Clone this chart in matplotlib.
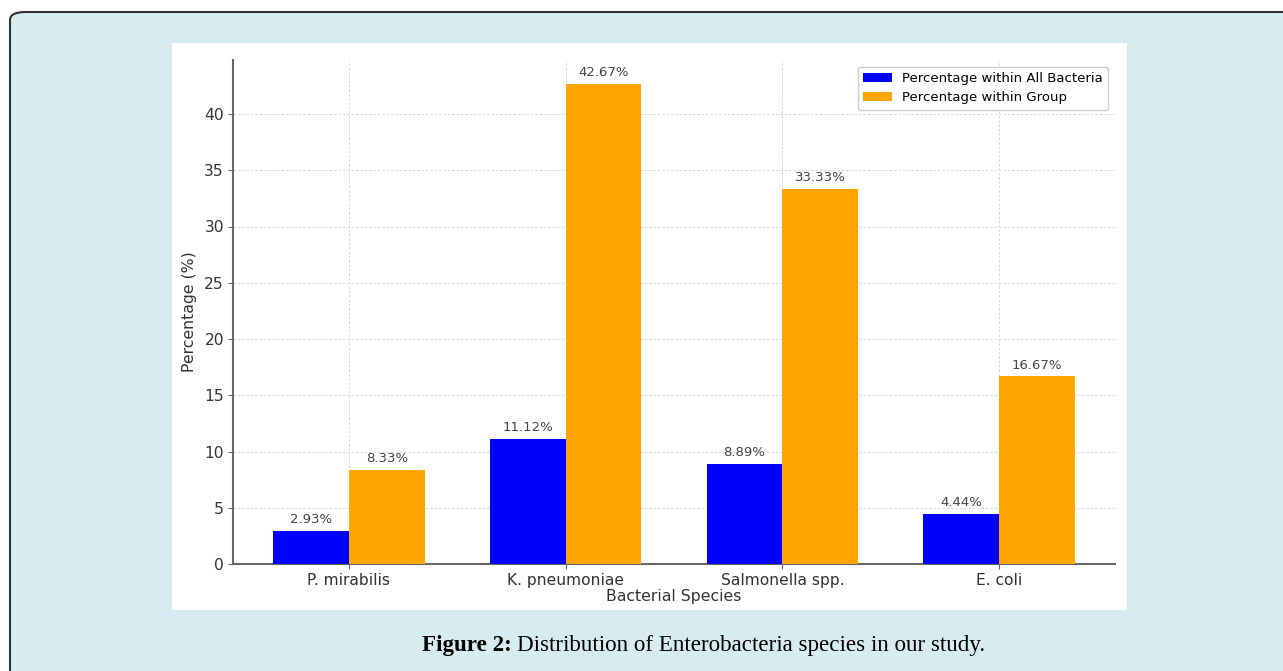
import matplotlib
matplotlib.use("Agg")
import matplotlib.pyplot as plt
from matplotlib.patches import FancyBboxPatch, Rectangle
import numpy as np

species = ["P. mirabilis", "K. pneumoniae", "Salmonella spp.", "E. coli"]
pct_all = [2.93, 11.12, 8.89, 4.44]
pct_group = [8.33, 42.67, 33.33, 16.67]
series_names = ["Percentage within All Bacteria", "Percentage within Group"]

W, H = 1283, 671
fig = plt.figure(figsize=(W / 100, H / 100), dpi=100)
fig.patch.set_facecolor("white")

# outer rounded panel
bg = FancyBboxPatch((10 / W, -20 / H), (W + 20) / W, (H - 12 + 20) / H,
                    boxstyle="round,pad=0,rounding_size=0.012",
                    transform=fig.transFigure, facecolor="#d7ecf1",
                    edgecolor="#333333", linewidth=1.5, zorder=0)
fig.patches.append(bg)
# white chart panel
fig.patches.append(Rectangle((172 / W, (H - 610) / H), (1127 - 172) / W, (610 - 43) / H,
                             transform=fig.transFigure, facecolor="white",
                             edgecolor="none", zorder=1))

ax = fig.add_axes([233 / W, (H - 564) / H, (1115 - 233) / W, (564 - 60) / H])
ax.set_facecolor("none")
ax.set_zorder(2)

x = np.arange(len(species))
w = 0.35
b1 = ax.bar(x - w / 2, pct_all, w, color="blue", label=series_names[0], zorder=3)
b2 = ax.bar(x + w / 2, pct_group, w, color="orange", label=series_names[1], zorder=3)

for bars, vals in ((b1, pct_all), (b2, pct_group)):
    for r, v in zip(bars, vals):
        ax.annotate(f"{v:.2f}%", (r.get_x() + r.get_width() / 2, r.get_height()),
                    xytext=(0, 3.5), textcoords="offset points", ha="center", va="bottom",
                    fontsize=9.5, color="#444444")

ax.set_ylim(0, 44.8)
ax.set_xlim(-0.535, 3.535)
ax.set_xticks(x)
ax.set_xticklabels(species)
ax.set_yticks(range(0, 45, 5))
ax.tick_params(labelsize=11.2, length=3.5, width=0.8, colors="#666666",
               labelcolor="#333333", pad=3)
ax.set_xlabel("Bacterial Species", fontsize=11.3, color="#333333", labelpad=1)
ax.set_ylabel("Percentage (%)", fontsize=11.3, color="#333333", labelpad=5)
ax.grid(True, linestyle=(0, (2.5, 2)), color="#d5d5d5", linewidth=0.7, zorder=0)
ax.set_axisbelow(True)
for s in ("top", "right"):
    ax.spines[s].set_visible(False)
for s in ("left", "bottom"):
    ax.spines[s].set_color("#666666")
    ax.spines[s].set_linewidth(1.5)

ax.legend(loc="upper right", fontsize=9.5, frameon=True, framealpha=1,
          edgecolor="#cccccc", fancybox=True, handlelength=2.2,
          bbox_to_anchor=(1.0, 1.0))

yc = (H - 645) / H
t1 = fig.text(422 / W, yc, "Figure 2:", fontsize=16.6, fontweight="bold",
              family="Liberation Serif", va="center", ha="left", zorder=3)
fig.canvas.draw()
ext = t1.get_window_extent()
fig.text((ext.x1 + 5) / W, yc, "Distribution of Enterobacteria species in our study.",
         fontsize=16.6, family="Liberation Serif", va="center", ha="left", zorder=3)

fig.savefig("out.png", dpi=100)
